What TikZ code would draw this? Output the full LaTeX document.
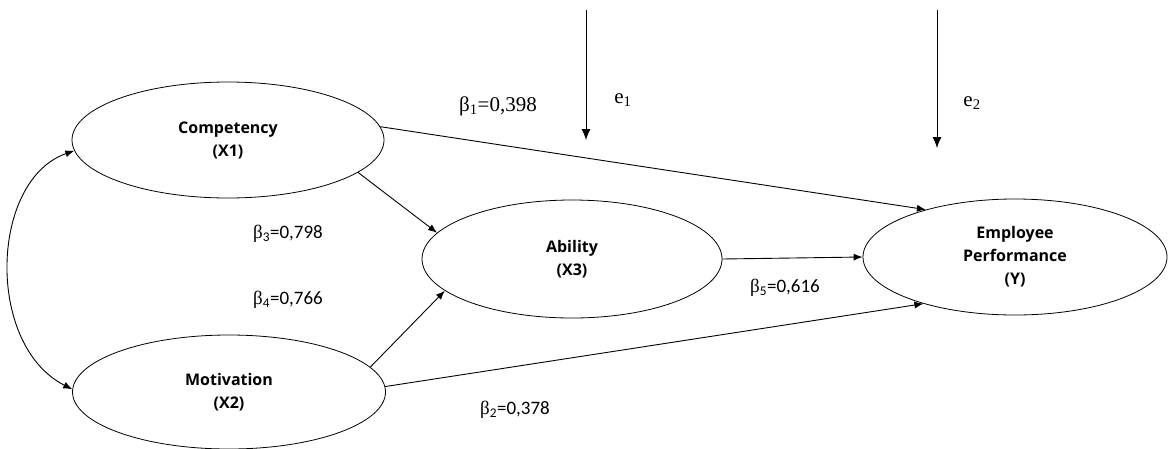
\documentclass[tikz,border=0pt]{standalone}
\usepackage{fontspec}
\setmainfont{Liberation Serif}
\newfontfamily\nodefont{Open Sans}
\newfontfamily\numfont{Carlito}
\usetikzlibrary{shapes.geometric,arrows.meta}
\begin{document}
\begin{tikzpicture}[x=1pt,y=-1pt,
  latent/.style={ellipse,draw,line width=0.8pt,inner sep=0pt,align=center,
    font=\nodefont\bfseries\fontsize{16}{23}\selectfont},
  conn/.style={line width=0.9pt,-{Latex[length=9pt,width=7pt]}},
  errarrow/.style={line width=0.9pt,-{Latex[length=11pt,width=9pt]}},
  coefs/.style={font=\fontsize{21}{24}\selectfont,inner sep=0pt},
  coef/.style={font=\numfont\fontsize{19}{22}\selectfont,inner sep=0pt}]
\useasboundingbox[fill=white] (0,0) rectangle (1169,448);
\node[latent,minimum width=312pt,minimum height=116pt] (comp) at (228,140) {Competency\\(X1)};
\node[latent,minimum width=313pt,minimum height=114pt] (mot) at (229,392) {Motivation\\(X2)};
\node[latent,minimum width=300pt,minimum height=118pt] (abil) at (572,259) {Ability\\(X3)};
\node[latent,minimum width=304pt,minimum height=116pt] (perf) at (1015,257) {Employee\\Performance\\(Y)};
\coordinate (e1s) at (586,10);
\coordinate (e1e) at (586,140);
\coordinate (e2s) at (937,10);
\coordinate (e2e) at (937,148);
\draw[errarrow] (e1s) -- (e1e);
\draw[errarrow] (e2s) -- (e2e);
\node[coefs] (le1) at (623,100) {e\textsubscript{1}};
\node[coefs] (le2) at (972,103) {e\textsubscript{2}};
\draw[conn] (comp.5) -- (perf.152);
\draw[conn] (comp.346) -- (abil.169);
\draw[conn] (mot.10) -- (abil.194);
\draw[conn] (mot.2) -- (perf.207);
\draw[conn] (abil.east) -- (perf.west);
\draw[line width=0.9pt,{Latex[length=9pt,width=7pt]}-{Latex[length=9pt,width=7pt]}]
  (comp.184) .. controls (-10,180) and (-15,345) .. (mot.179);
\node[coefs] (b1) at (498,106) {β\textsubscript{1}=0,398};
\node[coef] (b3) at (288,234) {{\rmfamily β}\textsubscript{3}=0,798};
\node[coef] (b4) at (288,300) {{\rmfamily β}\textsubscript{4}=0,766};
\node[coef] (b5) at (785,288) {{\rmfamily β}\textsubscript{5}=0,616};
\node[coef] (b2) at (515,410) {{\rmfamily β}\textsubscript{2}=0,378};
\end{tikzpicture}
\end{document}
